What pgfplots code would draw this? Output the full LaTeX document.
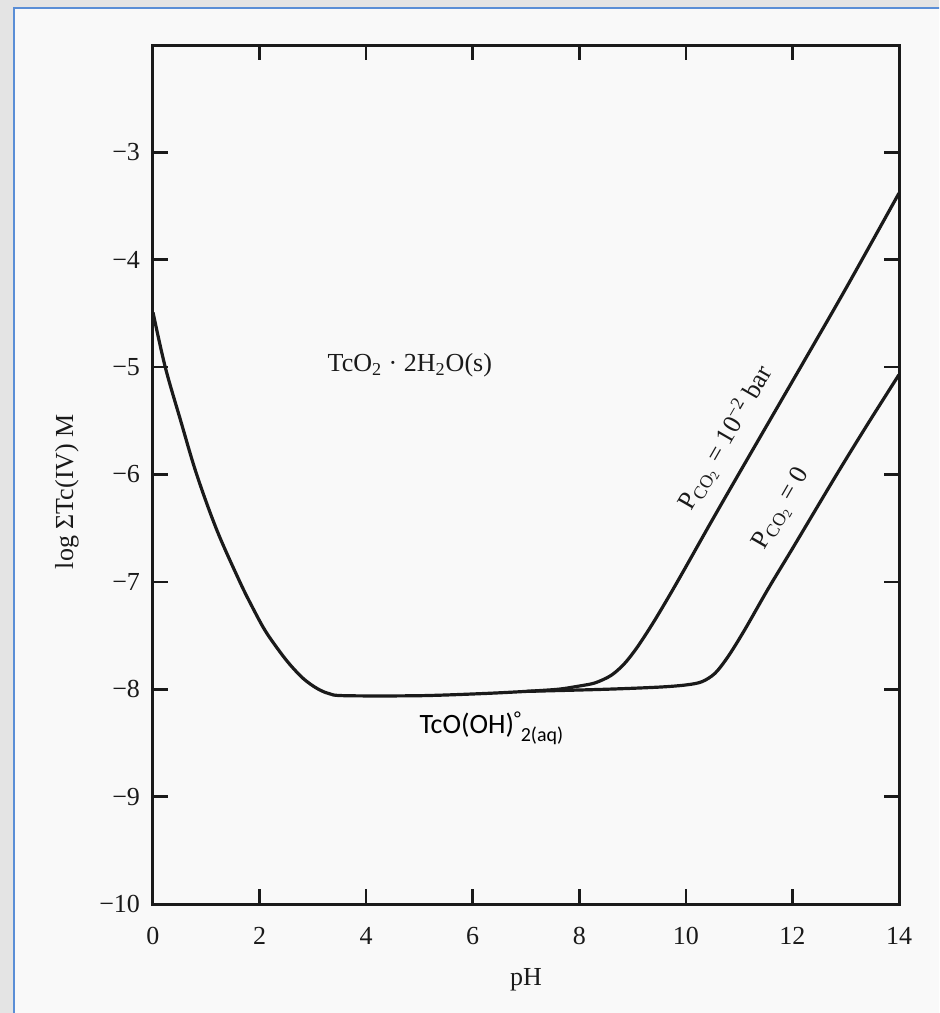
\documentclass[border=0pt]{standalone}
\usepackage{fontspec}
\setmainfont{Liberation Serif}
\newfontfamily\labelsans{Carlito}
\usepackage{pgfplots}
\pgfplotsset{compat=1.18}
\definecolor{pagegray}{HTML}{E4E4E4}
\definecolor{paper}{HTML}{F9F9F9}
\definecolor{framebl}{HTML}{5A8ED6}
\definecolor{ink}{HTML}{1A1A1A}

\begin{document}
\begin{tikzpicture}
% screenshot frame; 0.5pt per pixel, origin at the lower left corner of the axis box
\path[use as bounding box] (-76.5pt,-54.5pt) rectangle (393pt,452pt);
\clip (-76.5pt,-54.5pt) rectangle (393pt,452pt);
\fill[pagegray] (-76.5pt,-54.5pt) rectangle (393pt,452pt);
\fill[paper,draw=framebl,line width=1pt] (-69.5pt,-70pt) rectangle (410pt,448pt);
\begin{axis}[
  at={(0,0)}, anchor=south west,
  scale only axis, width=373pt, height=429.5pt,
  xmin=0, xmax=14, ymin=-10, ymax=-2,
  xtick={0,2,...,14},
  ytick={-10,-9,...,-2},
  yticklabels={−10,−9,−8,−7,−6,−5,−4,−3,{}},
  tick align=inside, tick pos=both,
  major tick length=7.5pt,
  axis line style={ink,line width=1.5pt},
  every tick/.style={ink,line width=1.3pt},
  /pgf/number format/assume math mode=true,
  ticklabel style={font=\fontsize{13}{15}\selectfont, text=ink},
  xticklabel shift=8pt,
  yticklabel shift=3pt,
  xlabel={pH},
  ylabel={log ΣTc(IV) M},
  label style={font=\fontsize{13}{15}\selectfont, text=ink},
  xlabel style={at={(axis description cs:0.5,-0.0885)}, anchor=center},
  ylabel style={at={(axis description cs:-0.1153,0.48)}, anchor=center},
  clip=false,
]
% common branch: acid side and the TcO(OH)2(aq) plateau
\addplot[ink, line width=1.6pt, smooth, tension=0.55] coordinates {
  (0,-4.49) (0.23,-5.0) (0.52,-5.5) (0.82,-6.0) (1.2,-6.52) (1.63,-7.0)
  (1.87,-7.24) (2.10,-7.45) (2.35,-7.63) (2.57,-7.77) (2.82,-7.9)
  (3.07,-7.99) (3.3,-8.04) (3.6,-8.06) (5.0,-8.06) (6.2,-8.04) (7.0,-8.02)
};
% P_CO2 = 10^-2 bar
\addplot[ink, line width=1.6pt, smooth, tension=0.5] coordinates {
  (7.0,-8.02) (7.6,-8.0) (8.0,-7.97) (8.3,-7.94) (8.6,-7.87) (8.85,-7.76)
  (9.1,-7.6) (9.4,-7.37) (9.7,-7.12) (10.0,-6.86) (10.5,-6.42) (11.08,-5.92)
  (12.2,-4.96) (13.0,-4.27) (14.0,-3.38)
};
% P_CO2 = 0
\addplot[ink, line width=1.6pt, smooth, tension=0.5] coordinates {
  (7.0,-8.02) (8.5,-8.0) (9.5,-7.98) (10.0,-7.96) (10.3,-7.93) (10.55,-7.85)
  (10.8,-7.69) (11.1,-7.45) (11.55,-7.06) (12.0,-6.69) (12.83,-6.0)
  (13.4,-5.54) (14.0,-5.07)
};
\node[text=ink, font=\fontsize{13}{15}\selectfont] at (axis cs:4.82,-4.98)
  {TcO\textsubscript{2} · 2H\textsubscript{2}O(s)};
\node[text=black, font=\labelsans\fontsize{14}{16}\selectfont] at (axis cs:6.35,-8.36)
  {TcO(OH)\raisebox{4pt}{\fontsize{10}{10}\selectfont °}\raisebox{-4pt}{\fontsize{10}{10}\selectfont 2(aq)}};
\node[text=ink, rotate=60, font=\fontsize{13}{15}\selectfont] at (axis cs:10.75,-5.66)
  {P\textsubscript{CO\textsubscript{2}} = 10\textsuperscript{−2} bar};
\node[text=ink, rotate=60, font=\fontsize{13}{15}\selectfont] at (axis cs:11.8,-6.32)
  {P\textsubscript{CO\textsubscript{2}} = 0};
\end{axis}
\end{tikzpicture}
\end{document}
